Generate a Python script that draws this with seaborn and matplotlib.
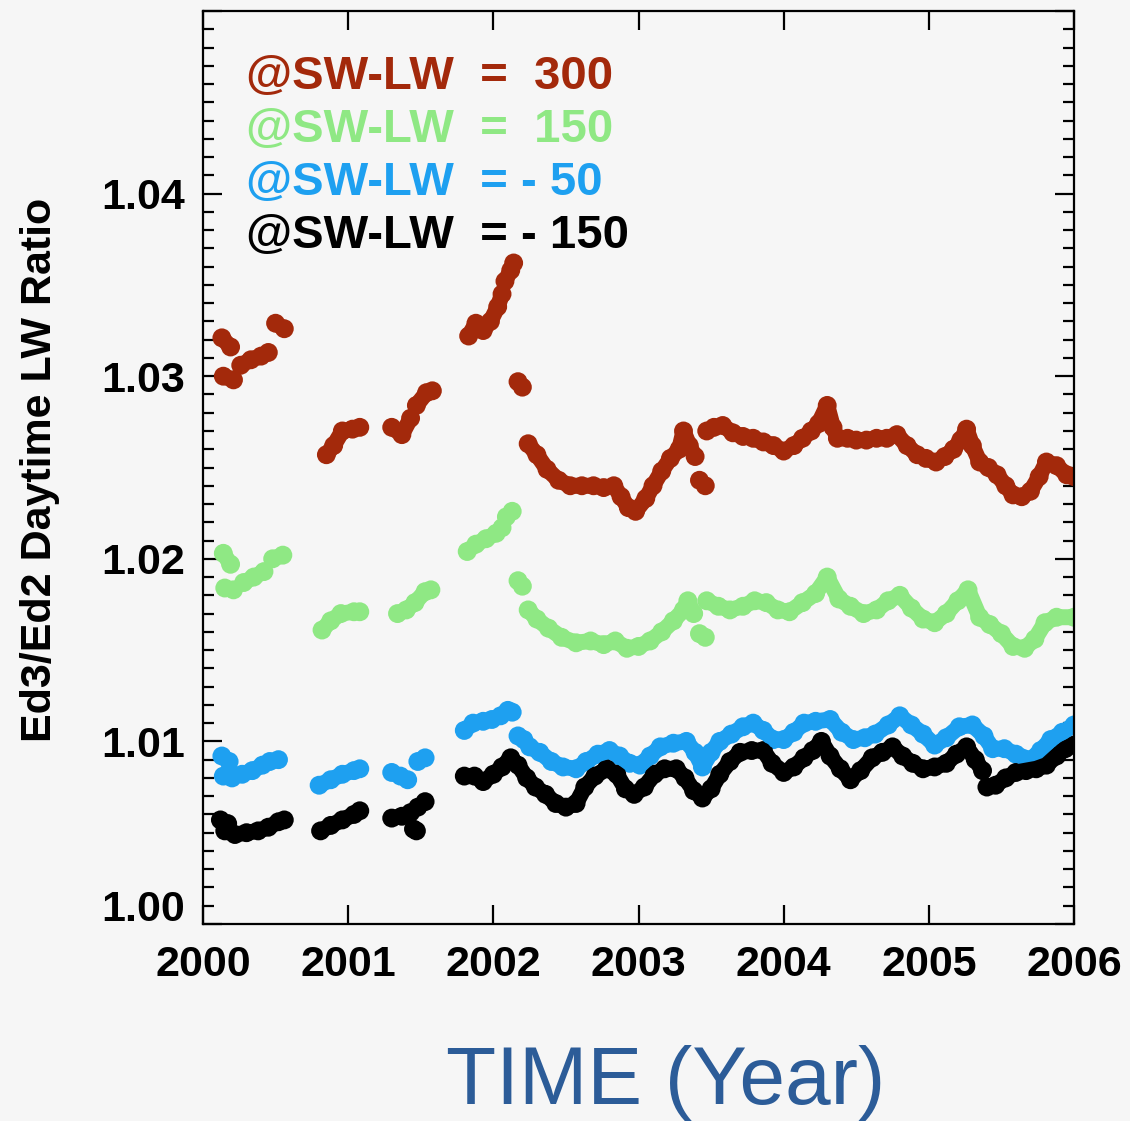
import numpy as np
import pandas as pd
import matplotlib
matplotlib.use("Agg")
import matplotlib.pyplot as plt
from matplotlib.ticker import FixedLocator, MultipleLocator
import seaborn as sns

# ---------------- data ----------------
series_names = ["@SW-LW  =  300", "@SW-LW  =  150", "@SW-LW  = - 50", "@SW-LW  = - 150"]
series_colors = ["#a3290b", "#8fe884", "#1ea0f0", "#000000"]

red_segments = [
    [(2000.13, 1.0321), (2000.19, 1.0316)],
    [(2000.14, 1.0300), (2000.21, 1.0298)],
    [(2000.26, 1.0306), (2000.33, 1.0309), (2000.40, 1.0311), (2000.45, 1.0313)],
    [(2000.50, 1.0329), (2000.56, 1.0326)],
    [(2000.85, 1.0257), (2000.90, 1.0262), (2000.96, 1.0270), (2001.03, 1.0271), (2001.08, 1.0272)],
    [(2001.30, 1.0272), (2001.37, 1.0268), (2001.43, 1.0277)],
    [(2001.47, 1.0284), (2001.54, 1.0291), (2001.58, 1.0292)],
    [(2001.83, 1.0322), (2001.88, 1.0329), (2001.93, 1.0325), (2001.98, 1.0330),
     (2002.03, 1.0338), (2002.06, 1.0345)],
    [(2002.08, 1.0352), (2002.12, 1.0358), (2002.14, 1.0362)],
    [(2002.17, 1.0297), (2002.20, 1.0294)],
    [(2002.24, 1.0263), (2002.30, 1.0257), (2002.37, 1.0249), (2002.45, 1.0243),
     (2002.53, 1.0240), (2002.61, 1.0240), (2002.69, 1.0240), (2002.76, 1.0239),
     (2002.83, 1.0240), (2002.88, 1.0234), (2002.93, 1.0228), (2002.98, 1.0226),
     (2003.05, 1.0233), (2003.10, 1.0240), (2003.16, 1.0248), (2003.22, 1.0255),
     (2003.28, 1.0260), (2003.31, 1.0270), (2003.35, 1.0262), (2003.39, 1.0256)],
    [(2003.42, 1.0243), (2003.46, 1.0240)],
    [(2003.47, 1.0270), (2003.52, 1.0272), (2003.58, 1.0273), (2003.65, 1.0269),
     (2003.72, 1.0267), (2003.79, 1.0266), (2003.86, 1.0264), (2003.93, 1.0262),
     (2004.00, 1.0259), (2004.07, 1.0262), (2004.13, 1.0266), (2004.19, 1.0270),
     (2004.24, 1.0274), (2004.30, 1.0284), (2004.34, 1.0272), (2004.37, 1.0266),
     (2004.44, 1.0266), (2004.50, 1.0265), (2004.57, 1.0265), (2004.64, 1.0266),
     (2004.71, 1.0266), (2004.78, 1.0268), (2004.85, 1.0262), (2004.92, 1.0257),
     (2004.98, 1.0255), (2005.05, 1.0253), (2005.11, 1.0256), (2005.17, 1.0260),
     (2005.22, 1.0265), (2005.26, 1.0271), (2005.30, 1.0262), (2005.35, 1.0253),
     (2005.41, 1.0250), (2005.47, 1.0246), (2005.53, 1.0240), (2005.58, 1.0235),
     (2005.64, 1.0234), (2005.70, 1.0237), (2005.76, 1.0245), (2005.81, 1.0253),
     (2005.88, 1.0251), (2005.95, 1.0246), (2006.00, 1.0245)],
]

green_segments = [
    [(2000.14, 1.0203), (2000.19, 1.0197)],
    [(2000.15, 1.0184), (2000.21, 1.0183)],
    [(2000.28, 1.0187), (2000.35, 1.0190), (2000.42, 1.0193)],
    [(2000.48, 1.0200), (2000.55, 1.0202)],
    [(2000.82, 1.0161), (2000.88, 1.0166), (2000.95, 1.0170), (2001.04, 1.0171), (2001.08, 1.0171)],
    [(2001.34, 1.0170), (2001.40, 1.0172), (2001.46, 1.0176), (2001.53, 1.0182), (2001.57, 1.0183)],
    [(2001.82, 1.0204), (2001.88, 1.0208), (2001.95, 1.0211), (2002.02, 1.0214), (2002.06, 1.0217)],
    [(2002.09, 1.0223), (2002.13, 1.0226)],
    [(2002.17, 1.0188), (2002.20, 1.0185)],
    [(2002.24, 1.0172), (2002.30, 1.0167), (2002.38, 1.0162), (2002.47, 1.0157),
     (2002.57, 1.0154), (2002.67, 1.0155), (2002.76, 1.0153), (2002.84, 1.0155),
     (2002.92, 1.0151), (2003.00, 1.0152), (2003.08, 1.0155), (2003.16, 1.0160),
     (2003.24, 1.0166), (2003.31, 1.0172), (2003.34, 1.0177), (2003.38, 1.0170)],
    [(2003.42, 1.0159), (2003.46, 1.0157)],
    [(2003.47, 1.0177), (2003.55, 1.0174), (2003.63, 1.0172), (2003.72, 1.0174),
     (2003.80, 1.0177), (2003.88, 1.0176), (2003.96, 1.0172), (2004.04, 1.0171),
     (2004.13, 1.0176), (2004.22, 1.0181), (2004.30, 1.0190), (2004.38, 1.0178),
     (2004.46, 1.0174), (2004.55, 1.0170), (2004.64, 1.0172), (2004.72, 1.0177),
     (2004.80, 1.0180), (2004.88, 1.0173), (2004.96, 1.0167), (2005.04, 1.0165),
     (2005.12, 1.0170), (2005.20, 1.0177), (2005.27, 1.0183), (2005.35, 1.0168),
     (2005.42, 1.0164), (2005.50, 1.0159), (2005.58, 1.0152), (2005.66, 1.0151),
     (2005.73, 1.0156), (2005.80, 1.0165), (2005.88, 1.0168), (2006.00, 1.0168)],
]

blue_segments = [
    [(2000.13, 1.0092), (2000.18, 1.0089)],
    [(2000.14, 1.0081), (2000.20, 1.0080)],
    [(2000.27, 1.0082), (2000.34, 1.0084), (2000.41, 1.0087), (2000.46, 1.0089), (2000.52, 1.0090)],
    [(2000.80, 1.0076), (2000.88, 1.0079), (2000.96, 1.0082), (2001.04, 1.0084), (2001.08, 1.0085)],
    [(2001.30, 1.0083), (2001.36, 1.0081), (2001.41, 1.0079)],
    [(2001.48, 1.0089), (2001.53, 1.0091)],
    [(2001.80, 1.0106), (2001.86, 1.0110), (2001.93, 1.0111), (2001.99, 1.0112),
     (2002.05, 1.0114), (2002.10, 1.0117), (2002.13, 1.0116)],
    [(2002.17, 1.0103), (2002.21, 1.0101), (2002.25, 1.0097), (2002.32, 1.0094),
     (2002.40, 1.0089), (2002.48, 1.0086), (2002.57, 1.0085), (2002.64, 1.0089),
     (2002.72, 1.0093), (2002.80, 1.0095), (2002.87, 1.0092), (2002.94, 1.0088),
     (2003.01, 1.0087), (2003.08, 1.0092), (2003.15, 1.0097), (2003.24, 1.0099),
     (2003.33, 1.0100), (2003.39, 1.0094), (2003.44, 1.0086), (2003.50, 1.0094),
     (2003.56, 1.0100), (2003.64, 1.0104), (2003.72, 1.0108), (2003.79, 1.0110),
     (2003.86, 1.0106), (2003.93, 1.0101), (2004.00, 1.0101), (2004.07, 1.0105),
     (2004.14, 1.0110), (2004.22, 1.0111), (2004.32, 1.0112), (2004.40, 1.0105),
     (2004.48, 1.0101), (2004.56, 1.0102), (2004.63, 1.0104), (2004.72, 1.0109),
     (2004.80, 1.0114), (2004.88, 1.0109), (2004.96, 1.0104), (2005.04, 1.0098),
     (2005.12, 1.0102), (2005.21, 1.0108), (2005.30, 1.0109), (2005.38, 1.0103),
     (2005.44, 1.0096), (2005.52, 1.0096), (2005.60, 1.0093), (2005.70, 1.0090),
     (2005.77, 1.0095), (2005.84, 1.0101), (2005.92, 1.0105), (2006.00, 1.0109)],
]

black_segments = [
    [(2000.12, 1.0057), (2000.17, 1.0055)],
    [(2000.15, 1.0051), (2000.22, 1.0049), (2000.30, 1.0050), (2000.38, 1.0051),
     (2000.45, 1.0053), (2000.52, 1.0056), (2000.56, 1.0057)],
    [(2000.81, 1.0051), (2000.88, 1.0054), (2000.96, 1.0057), (2001.04, 1.0060), (2001.08, 1.0062)],
    [(2001.30, 1.0058), (2001.37, 1.0059), (2001.43, 1.0061)],
    [(2001.45, 1.0052), (2001.47, 1.0051)],
    [(2001.48, 1.0064), (2001.53, 1.0067)],
    [(2001.80, 1.0081), (2001.87, 1.0081), (2001.93, 1.0078), (2002.00, 1.0082),
     (2002.06, 1.0086), (2002.12, 1.0091), (2002.17, 1.0087), (2002.23, 1.0080),
     (2002.29, 1.0075), (2002.36, 1.0071), (2002.43, 1.0066), (2002.50, 1.0064),
     (2002.57, 1.0066), (2002.63, 1.0075), (2002.70, 1.0081), (2002.78, 1.0085),
     (2002.85, 1.0082), (2002.91, 1.0074), (2002.97, 1.0071), (2003.04, 1.0075),
     (2003.11, 1.0082), (2003.18, 1.0085), (2003.26, 1.0085), (2003.32, 1.0080),
     (2003.38, 1.0073), (2003.44, 1.0069), (2003.50, 1.0074), (2003.56, 1.0082),
     (2003.63, 1.0089), (2003.70, 1.0094), (2003.78, 1.0095), (2003.86, 1.0095),
     (2003.92, 1.0088), (2004.00, 1.0083), (2004.07, 1.0086), (2004.14, 1.0091),
     (2004.20, 1.0095), (2004.26, 1.0100), (2004.32, 1.0092), (2004.39, 1.0085),
     (2004.46, 1.0079), (2004.53, 1.0084), (2004.61, 1.0091), (2004.68, 1.0094),
     (2004.75, 1.0097), (2004.82, 1.0092), (2004.89, 1.0088), (2004.96, 1.0085),
     (2005.04, 1.0086), (2005.12, 1.0088), (2005.19, 1.0093), (2005.26, 1.0097),
     (2005.32, 1.0090), (2005.37, 1.0084)],
    [(2005.40, 1.0075), (2005.46, 1.0076), (2005.53, 1.0080), (2005.60, 1.0083),
     (2005.67, 1.0084), (2005.74, 1.0085), (2005.81, 1.0087), (2005.88, 1.0092),
     (2005.94, 1.0096), (2006.00, 1.0098)],
]

x_ticks = [2000, 2001, 2002, 2003, 2004, 2005, 2006]
x_ticklabels = ["2000", "2001", "2002", "2003", "2004", "2005", "2006"]
y_ticks = [1.00, 1.01, 1.02, 1.03, 1.04, 1.05]
y_ticklabels = ["", "1.01", "1.02", "1.03", "1.04", ""]
y_label = "Ed3/Ed2 Daytime LW Ratio"
x_label = "TIME (Year)"

# ---------------- build table ----------------
rows = []
for name, segs in zip(series_names, [red_segments, green_segments, blue_segments, black_segments]):
    for i, seg in enumerate(segs):
        for (yr, val) in seg:
            rows.append({"series": name, "seg": f"{name}#{i}", "year": yr, "value": val})
df = pd.DataFrame(rows)
palette = dict(zip(series_names, series_colors))

# ---------------- style ----------------
sns.set_style("ticks")
plt.rcParams["font.family"] = ["Liberation Sans", "DejaVu Sans"]
BG = "#f6f6f6"

fig = plt.figure(figsize=(11.30, 11.21), dpi=100, facecolor=BG)
ax = fig.add_axes([203 / 1130, (1121 - 924) / 1121, (1074 - 203) / 1130, (924 - 11) / 1121])
ax.set_facecolor(BG)

sns.lineplot(data=df, x="year", y="value", hue="series", hue_order=series_names,
             units="seg", estimator=None, sort=False, palette=palette,
             linewidth=11.5, legend=False, ax=ax)
for ln in ax.lines:
    ln.set_solid_capstyle("round")
    ln.set_solid_joinstyle("round")
sns.scatterplot(data=df, x="year", y="value", hue="series", hue_order=series_names,
                palette=palette, s=185, linewidth=0, legend=False, ax=ax)

ax.set_xlim(2000, 2006)
ax.set_ylim(1.00, 1.05)
ax.xaxis.set_major_locator(FixedLocator(x_ticks))
ax.set_xticklabels(x_ticklabels)
ax.yaxis.set_major_locator(FixedLocator(y_ticks))
ax.set_yticklabels(y_ticklabels)
ax.yaxis.set_minor_locator(MultipleLocator(0.001))
ax.tick_params(axis="both", which="both", direction="in", top=True, right=True,
               width=1.6, color="black", labelcolor="black")
ax.tick_params(axis="both", which="major", length=14)
ax.tick_params(axis="y", which="minor", length=8)
ax.tick_params(axis="x", which="major", pad=15, labelsize=31)
ax.tick_params(axis="y", which="major", pad=13, labelsize=31)
for lab in ax.get_xticklabels() + ax.get_yticklabels():
    lab.set_fontweight("bold")
for sp in ax.spines.values():
    sp.set_linewidth(1.6)
    sp.set_color("black")
ax.set_xlabel("")
ax.set_ylabel("")

# raised "1.00" label as in the reference
ax.annotate("1.00", xy=(0, 1.00), xycoords=("axes fraction", "data"),
            xytext=(-13, 10), textcoords="offset points", ha="right", va="center",
            fontsize=31, fontweight="bold", color="black", annotation_clip=False)

# y label
fig.text(40 / 1130, 1 - 470 / 1121, y_label, rotation=90, ha="center", va="center",
         fontsize=31, fontweight="bold", color="black")

# x label
fig.text(666 / 1130, 1 - 1083 / 1121, x_label, ha="center", va="center",
         fontsize=59, color="#2c5c98")

# in-plot legend texts
baselines = [89, 142, 195, 248]
for name, col, yb in zip(series_names, series_colors, baselines):
    fig.text(246 / 1130, 1 - yb / 1121, name, ha="left", va="baseline",
             fontsize=34, fontweight="bold", color=col)

fig.savefig("out.png", dpi=100, facecolor=BG)
